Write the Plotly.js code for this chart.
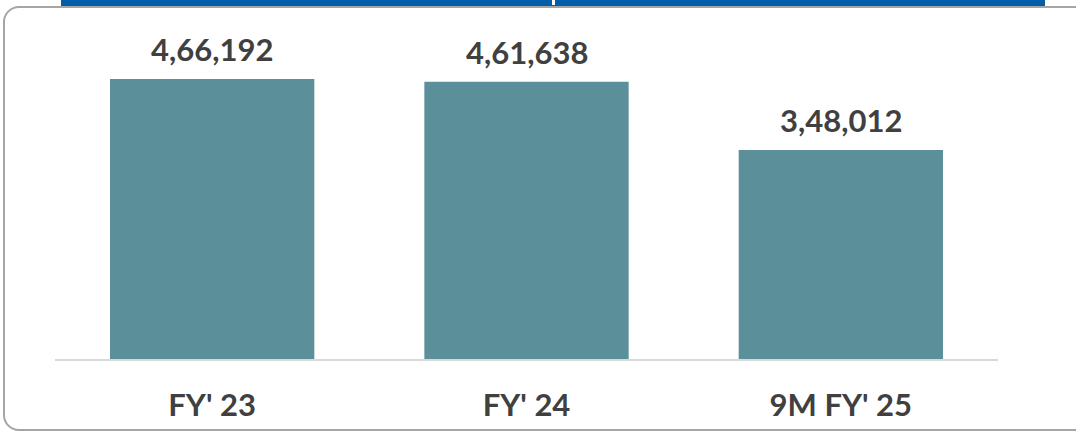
<!DOCTYPE html>
<html>
<head>
<meta charset="utf-8">
<script src="https://cdn.plot.ly/plotly-3.0.1.min.js"></script>
<style>
  html, body { margin: 0; padding: 0; background: #ffffff; overflow: hidden; }
  #wrap { position: relative; width: 1076px; height: 433px; overflow: hidden; }
  #frame { position: absolute; left: 3px; top: 6px; width: 1100px; height: 425px;
           border: 2px solid #a5a5a5; border-radius: 16px; box-sizing: border-box; }
  #band { position: absolute; left: 61px; top: 0; width: 984px; height: 6px; background: #005ea8; }
  #sep { position: absolute; left: 552px; top: 0; width: 3px; height: 5px; background: #ffffff; }
  #chart { position: absolute; left: 0; top: 0; width: 1076px; height: 433px; }
</style>
</head>
<body>
<div id="wrap">
  <div id="frame"></div>
  <div id="band"></div>
  <div id="sep"></div>
  <div id="chart"></div>
</div>
<script>
const categories = ["FY' 23", "FY' 24", "9M FY' 25"];
const values = [466192, 461638, 348012];
const valueLabels = ["4,66,192", "4,61,638", "3,48,012"];

const fontFamily = "Lato, 'Open Sans', sans-serif";
const textColor = "#404040";

const trace = {
  type: "bar",
  x: categories,
  y: values,
  width: 0.65,
  marker: { color: "#5b8f99" },
  hoverinfo: "skip"
};

const annotations = categories.map((c, i) => ({
  x: c,
  y: values[i],
  xref: "x",
  yref: "y",
  text: "<b>" + valueLabels[i] + "</b>",
  showarrow: false,
  yanchor: "bottom",
  yshift: 9,
  font: { family: fontFamily, size: 31, color: textColor }
}));

const layout = {
  width: 1076,
  height: 433,
  margin: { l: 55, r: 78, t: 20, b: 74 },
  paper_bgcolor: "rgba(0,0,0,0)",
  plot_bgcolor: "rgba(0,0,0,0)",
  showlegend: false,
  bargap: 0.35,
  xaxis: {
    type: "category",
    showline: true,
    linecolor: "#d9d9d9",
    linewidth: 2,
    showgrid: false,
    zeroline: false,
    ticks: "",
    ticklabelstandoff: 18,
    tickfont: { family: fontFamily, size: 31, color: textColor, weight: "bold" }
  },
  yaxis: {
    range: [0, 564400],
    visible: false,
    showgrid: false,
    zeroline: false
  },
  annotations: annotations
};

Plotly.newPlot("chart", [trace], layout, { displayModeBar: false, staticPlot: true });
</script>
</body>
</html>
